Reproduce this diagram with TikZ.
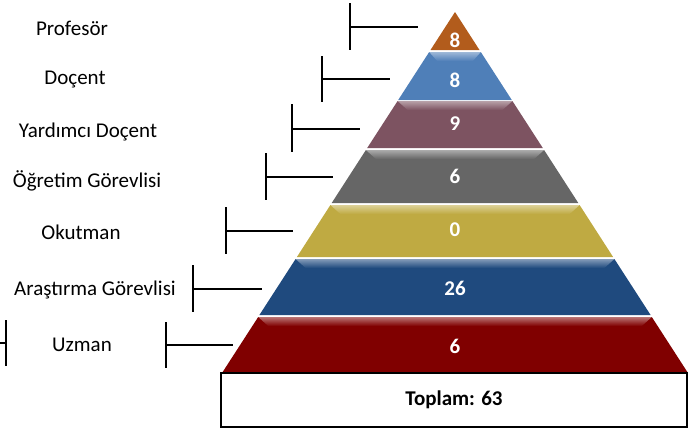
\documentclass[tikz,border=0pt]{standalone}
\usepackage{fontspec}
\setmainfont{Carlito}

\definecolor{profcol}{RGB}{178,92,28}
\definecolor{doccol}{RGB}{79,127,184}
\definecolor{yrdcol}{RGB}{125,83,97}
\definecolor{ogrcol}{RGB}{102,102,102}
\definecolor{okucol}{RGB}{191,170,66}
\definecolor{arscol}{RGB}{31,74,126}
\definecolor{uzmcol}{RGB}{128,0,0}

\begin{document}
\begin{tikzpicture}[x=1pt, y=-1pt,
	lab/.style={font=\fontsize{21}{25}\selectfont, text=black},
	num/.style={font=\fontsize{21}{25}\selectfont\bfseries, text=white},
	bar/.style={line width=1.5pt, draw=black},
	totalbox/.style={draw=black, line width=1.5pt, minimum width=466pt, minimum height=54pt, inner sep=0pt, font=\fontsize{21}{25}\selectfont\bfseries}
	]
	\useasboundingbox (0,0) rectangle (688,429);

	% pyramid bands
	\fill[profcol] (455,12) -- (479.5,50) -- (430.5,50) -- cycle;

	\fill[doccol] (429.2,52) -- (480.8,52) -- (511.8,100) -- (398.2,100) -- cycle;
		\shade[top color=doccol!55!white, bottom color=doccol] (429.2,52) -- (480.8,52) -- (472.8,61) -- (437.2,61) -- cycle;

	\fill[yrdcol] (397.6,101) -- (512.4,101) -- (542.8,148) -- (367.2,148) -- cycle;
		\shade[top color=yrdcol!55!white, bottom color=yrdcol] (397.6,101) -- (512.4,101) -- (502.4,110) -- (407.6,110) -- cycle;

	\fill[ogrcol] (365.9,150) -- (544.1,150) -- (578.3,203) -- (331.7,203) -- cycle;
		\shade[top color=ogrcol!55!white, bottom color=ogrcol] (365.9,150) -- (544.1,150) -- (534.1,159) -- (375.9,159) -- cycle;

	\fill[okucol] (330.4,205) -- (579.6,205) -- (613.1,257) -- (296.9,257) -- cycle;
		\shade[top color=okucol!55!white, bottom color=okucol] (330.4,205) -- (579.6,205) -- (569.6,214) -- (340.4,214) -- cycle;

	\fill[arscol] (295.6,259) -- (614.4,259) -- (650.6,315) -- (259.4,315) -- cycle;
		\shade[top color=arscol!55!white, bottom color=arscol] (295.6,259) -- (614.4,259) -- (604.4,268) -- (305.6,268) -- cycle;

	\fill[uzmcol] (258.2,317) -- (651.8,317) -- (688,373) -- (222,373) -- cycle;
		\shade[top color=uzmcol!55!white, bottom color=uzmcol] (258.2,317) -- (651.8,317) -- (641.8,326) -- (268.2,326) -- cycle;

	% numbers
	\node (n1) [num] at (455,40) {8};
	\node (n2) [num] at (455,80) {8};
	\node (n3) [num] at (455,124) {9};
	\node (n4) [num] at (455,176) {6};
	\node (n5) [num] at (455,230) {0};
	\node (n6) [num] at (455,288) {26};
	\node (n7) [num] at (455,346) {6};

	\node (total) [totalbox] at (454,400) {Toplam: 63};

	% labels
	\node (prof) [lab] at (72,28) {Profesör};
	\node (doc) [lab] at (75,80) {Doçent};
	\node (yrd) [lab] at (88,132) {Yardımcı Doçent};
	\node (ogr) [lab] at (87,181) {Öğretim Görevlisi};
	\node (oku) [lab] at (81,232) {Okutman};
	\node (ars) [lab] at (95,290) {Araştırma Görevlisi};
	\node (uzm) [lab] at (82,345) {Uzman};

	% brackets
	\coordinate (t1) at (350,27);  \coordinate (e1) at (418,27);
	\coordinate (t2) at (322,79);  \coordinate (e2) at (390,79);
	\coordinate (t3) at (292,129); \coordinate (e3) at (360,129);
	\coordinate (t4) at (266,177); \coordinate (e4) at (333,177);
	\coordinate (t5) at (226,231); \coordinate (e5) at (293,231);
	\coordinate (t6) at (193,289); \coordinate (e6) at (262,289);
	\coordinate (t7) at (166,345); \coordinate (e7) at (233,345);
	\coordinate (t8) at (6,343);   \coordinate (e8) at (0,343);

	\draw [bar] (t1) -- (e1);
	\draw [bar] ([yshift=24pt]t1) -- ([yshift=-23pt]t1);
	\draw [bar] (t2) -- (e2);
	\draw [bar] ([yshift=23pt]t2) -- ([yshift=-23pt]t2);
	\draw [bar] (t3) -- (e3);
	\draw [bar] ([yshift=25pt]t3) -- ([yshift=-23pt]t3);
	\draw [bar] (t4) -- (e4);
	\draw [bar] ([yshift=24pt]t4) -- ([yshift=-23pt]t4);
	\draw [bar] (t5) -- (e5);
	\draw [bar] ([yshift=24pt]t5) -- ([yshift=-23pt]t5);
	\draw [bar] (t6) -- (e6);
	\draw [bar] ([yshift=24pt]t6) -- ([yshift=-23pt]t6);
	\draw [bar] (t7) -- (e7);
	\draw [bar] ([yshift=23pt]t7) -- ([yshift=-23pt]t7);
	\draw [bar] (t8) -- (e8);
	\draw [bar] ([yshift=23pt]t8) -- ([yshift=-23pt]t8);

\end{tikzpicture}
\end{document}
